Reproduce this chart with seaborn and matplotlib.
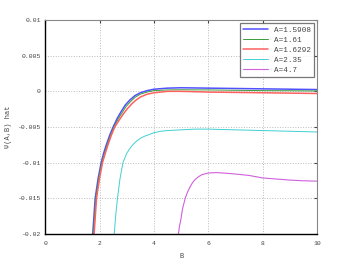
import pandas as pd
import seaborn as sns
import matplotlib.pyplot as plt

labels = ['A=1.5908', 'A=1.61', 'A=1.6292', 'A=2.35', 'A=4.7']

b_blue = [1.70, 1.75, 1.84, 1.95, 2.06, 2.15, 2.25, 2.37, 2.50, 2.65, 2.80, 2.95, 3.12, 3.30,
          3.50, 3.75, 4.0, 4.5, 5.0, 6.0, 7.0, 8.0, 9.0, 10.0]
psi_blue = [-0.0215, -0.020, -0.015, -0.0122, -0.010, -0.0087, -0.0075, -0.0062, -0.005,
            -0.0038, -0.0028, -0.0019, -0.0012, -0.0006, -0.0002, 0.0001, 0.0003, 0.00045,
            0.0005, 0.00045, 0.0004, 0.00035, 0.0003, 0.00025]

b_green = [1.72, 1.77, 1.86, 1.97, 2.08, 2.18, 2.28, 2.40, 2.53, 2.68, 2.83, 2.98, 3.15, 3.32,
           3.50, 3.75, 4.0, 4.5, 5.0, 6.0, 7.0, 8.0, 9.0, 10.0]
psi_green = [-0.0215, -0.020, -0.015, -0.0122, -0.010, -0.0087, -0.0075, -0.0062, -0.005,
             -0.0039, -0.003, -0.0021, -0.0014, -0.0008, -0.0004, -0.0001, 0.0001, 0.0002,
             0.00022, 0.0002, 0.00015, 0.0001, 0.00008, 0.00005]

b_red = [1.75, 1.80, 1.89, 2.00, 2.11, 2.21, 2.31, 2.43, 2.56, 2.71, 2.87, 3.03, 3.20, 3.35,
         3.50, 3.75, 4.0, 4.5, 5.0, 6.0, 7.0, 8.0, 9.0, 10.0]
psi_red = [-0.0215, -0.020, -0.015, -0.0122, -0.010, -0.0087, -0.0075, -0.0062, -0.005,
           -0.0041, -0.0032, -0.0024, -0.0017, -0.0012, -0.0008, -0.0004, -0.0002, 0.0,
           0.0, -0.0001, -0.00015, -0.0002, -0.00025, -0.0003]

b_cyan = [2.50, 2.54, 2.60, 2.66, 2.75, 2.86, 3.0, 3.1, 3.2, 3.35, 3.5, 3.65, 3.8, 4.0, 4.25,
          4.5, 5.0, 5.5, 6.0, 7.0, 8.0, 9.0, 10.0]
psi_cyan = [-0.0215, -0.020, -0.0172, -0.015, -0.0123, -0.010, -0.0087, -0.0081, -0.0076,
            -0.0070, -0.0066, -0.0063, -0.0061, -0.0058, -0.0056, -0.0055, -0.0054, -0.0053,
            -0.0053, -0.0054, -0.0055, -0.0056, -0.0057]

b_mag = [4.86, 4.90, 4.94, 4.99, 5.05, 5.15, 5.24, 5.33, 5.42, 5.51, 5.63, 5.76, 6.0, 6.3,
         6.7, 7.0, 7.5, 8.0, 8.5, 9.0, 9.5, 10.0]
psi_mag = [-0.0215, -0.020, -0.0189, -0.018, -0.0165, -0.015, -0.0141, -0.0134, -0.0128,
           -0.0124, -0.0120, -0.0117, -0.01145, -0.0114, -0.0115, -0.0116, -0.0118, -0.01215,
           -0.0123, -0.01245, -0.01255, -0.0126]

series = [(b_blue, psi_blue), (b_green, psi_green), (b_red, psi_red),
          (b_cyan, psi_cyan), (b_mag, psi_mag)]
frames = []
for lab, (b, p) in zip(labels, series):
    frames.append(pd.DataFrame({'B': b, 'psi': p, 'A': lab}))
df = pd.concat(frames, ignore_index=True)

palette = {'A=1.5908': '#5050ff', 'A=1.61': '#3a9a3a', 'A=1.6292': '#ff6060',
           'A=2.35': '#40d0d0', 'A=4.7': '#d060dc'}
widths = {'A=1.5908': 1.1, 'A=1.61': 0.7, 'A=1.6292': 1.1, 'A=2.35': 0.7, 'A=4.7': 0.8}

sns.set_style('white')
plt.rcParams['font.family'] = ['Liberation Mono', 'DejaVu Sans Mono']

fig = plt.figure(figsize=(3.5, 2.64), dpi=100)
ax = fig.add_axes([0.129, 0.114, 0.777, 0.81])

for lab in labels:
    sns.lineplot(data=df[df['A'] == lab], x='B', y='psi', color=palette[lab],
                 linewidth=widths[lab], label=lab, ax=ax, sort=False)

ax.set_xlim(0, 10)
ax.set_ylim(-0.02, 0.01)
ax.set_xticks([0, 2, 4, 6, 8, 10])
ax.set_xticklabels(['0', '2', '4', '6', '8', '10'])
ax.set_yticks([-0.02, -0.015, -0.01, -0.005, 0, 0.005, 0.01])
ax.set_yticklabels(['-0.02', '-0.015', '-0.01', '-0.005', '0', '0.005', '0.01'])
ax.tick_params(labelsize=4.6, colors='#444444', length=2, direction='in', pad=3,
               top=True, right=True)
ax.tick_params(axis='x', pad=5)
ax.grid(True, linestyle=':', color='#bbbbbb', linewidth=0.7)

for side in ['left', 'bottom']:
    ax.spines[side].set_color('black')
    ax.spines[side].set_linewidth(1.0)
for side in ['top', 'right']:
    ax.spines[side].set_color('#888888')
    ax.spines[side].set_linewidth(0.8)

ax.set_xlabel('B', fontsize=5, color='#444444', labelpad=5)
ax.set_ylabel('\u03a8(A,B) hat', fontsize=5, color='#444444', labelpad=4)

leg = ax.legend(loc='upper right', fontsize=5.5, frameon=True, fancybox=False,
                edgecolor='#555555', borderaxespad=0.4, handlelength=3.2,
                labelspacing=0.35, borderpad=0.4)
leg.get_frame().set_linewidth(0.9)
for t in leg.get_texts():
    t.set_color('#444444')

fig.savefig('out.png', dpi=100)
